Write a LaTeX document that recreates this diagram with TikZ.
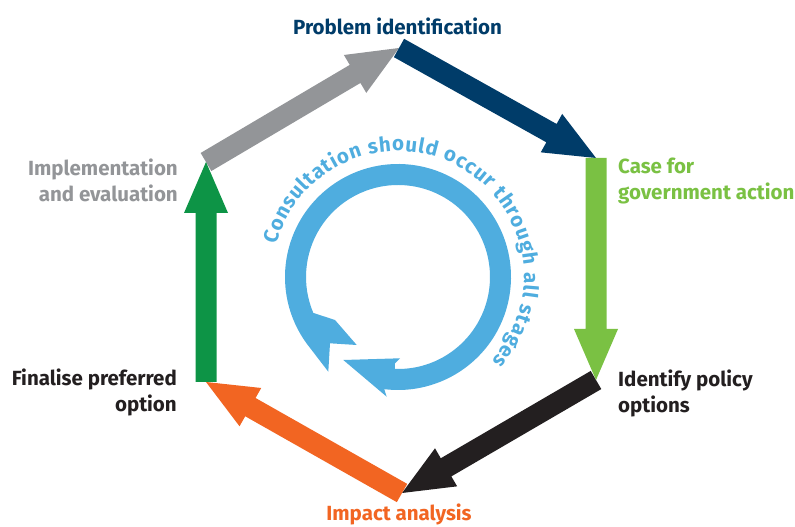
\documentclass[tikz,border=0pt]{standalone}
\usepackage{fontspec}
\setmainfont{Fira Sans}
\usetikzlibrary{calc,decorations.text}
\definecolor{navy}{HTML}{003C69}
\definecolor{lgreen}{HTML}{7AC143}
\definecolor{blk}{HTML}{231F20}
\definecolor{orng}{HTML}{F26522}
\definecolor{dgreen}{HTML}{0D9446}
\definecolor{gry}{HTML}{939598}
\definecolor{cblue}{HTML}{4FADDF}
\newcommand\arrshaft{10.5pt}
\newcommand\arrhead{22pt}
\newcommand\arrlen{51pt}
\newcommand\hexarrow[3]{%
  \coordinate (hb) at ($(#2)!\arrlen!(#1)$);
  \fill[#3] ($(#1)!\arrshaft!90:(#2)$) -- ($(hb)!\arrshaft!-90:(#1)$) -- ($(hb)!\arrhead!-90:(#1)$) -- (#2) -- ($(hb)!\arrhead!90:(#1)$) -- ($(hb)!\arrshaft!90:(#1)$) -- ($(#1)!\arrshaft!-90:(#2)$) -- cycle;}
\tikzset{
  lbl/.style={inner sep=0pt, font=\fontsize{20.5}{26}\selectfont\bfseries},
}
\begin{document}
\begin{tikzpicture}[x=1pt,y=1pt]
\useasboundingbox (0,0) rectangle (795,527);
\fill[white] (0,0) rectangle (795,527);
% hexagon vertices
\coordinate (v1) at (399,479);
\coordinate (v2) at (596,369);
\coordinate (v3) at (596,147);
\coordinate (v4) at (402,34);
\coordinate (v5) at (206,145);
\coordinate (v6) at (206,365);
\hexarrow{v6}{v1}{gry}
\hexarrow{v1}{v2}{navy}
\hexarrow{v3}{v4}{blk}
\hexarrow{v2}{v3}{lgreen}
\hexarrow{v5}{v6}{dgreen}
\hexarrow{v4}{v5}{orng}
% labels
\node[lbl, text=navy, anchor=base] (problem) at (397.5,492) {Problem identification};
\node[lbl, text=lgreen, anchor=north west, align=left] (case) at (618,369) {Case for\\government action};
\node[lbl, text=blk, anchor=north west, align=left] (identify) at (618,157) {Identify policy\\options};
\node[lbl, text=orng, anchor=base] (impact) at (399,6) {Impact analysis};
\node[lbl, text=blk, anchor=north east, align=right] (finalise) at (177,158.7) {Finalise preferred\\option};
\node[lbl, text=gry, anchor=north east, align=right] (impl) at (178,368.7) {Implementation\\and evaluation};
% central ring
\coordinate (c) at (398,250);
\begin{scope}[shift={(c)}]
\fill[cblue] (216:113pt) arc[start angle=216, end angle=-97, radius=113pt]
  -- (-11.3,-119.7) -- (-54.7,-83) -- (2,-81.3) -- (-3,-86.3)
  -- (-92:92pt) arc[start angle=-92, end angle=203, radius=92pt]
  -- (-63,-43) -- (-41.3,-68) -- (-68,-66.3) -- (-69.7,-94.7) -- cycle;
\path[decorate, decoration={text along path, text align=fit to path,
  text={|\fontsize{20.5}{22}\selectfont\bfseries\color{cblue}|Consultation should occur through all stages}}]
  (165:126pt) arc[start angle=165, end angle=-42, radius=126pt];
\end{scope}
\end{tikzpicture}
\end{document}
